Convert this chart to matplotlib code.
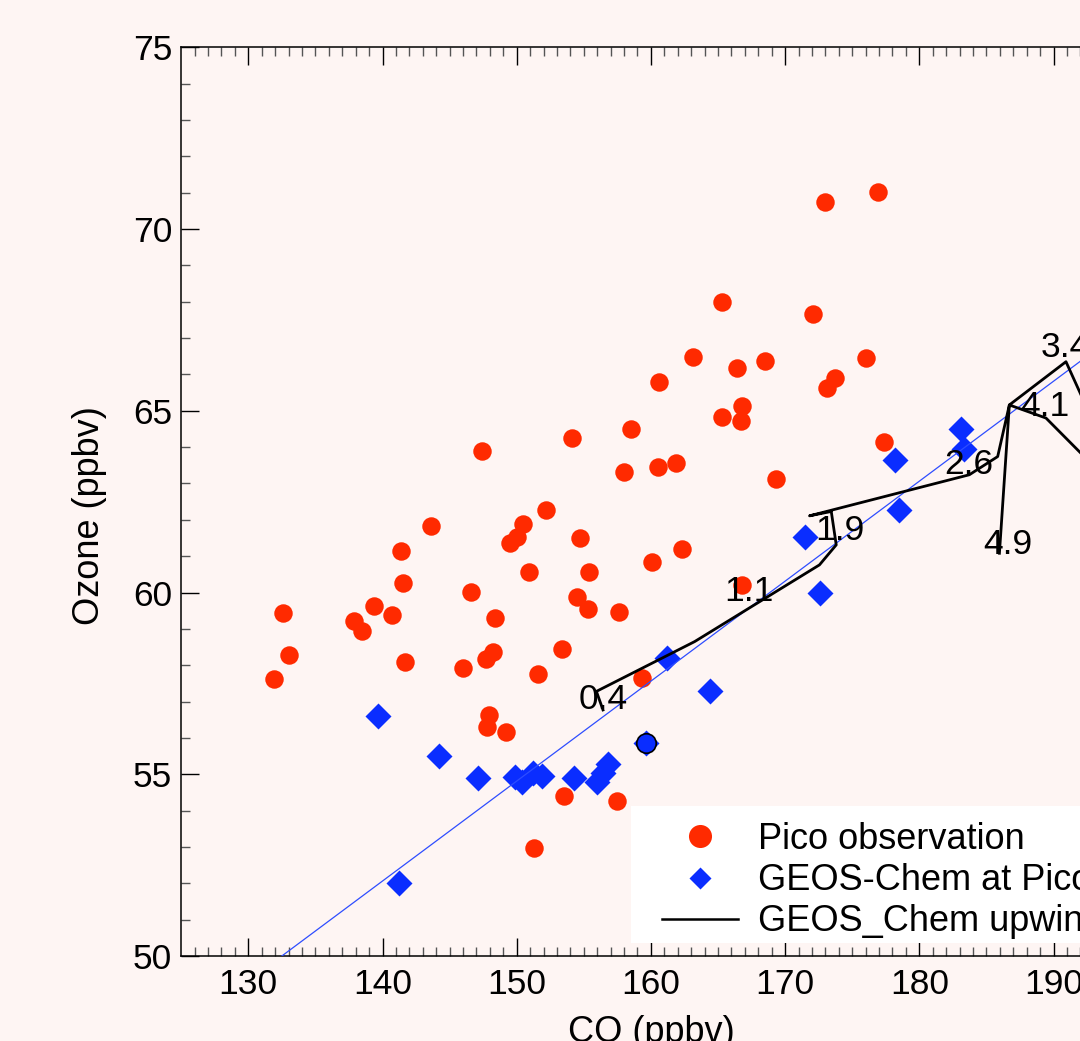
import matplotlib
matplotlib.use("Agg")
import matplotlib.pyplot as plt
from matplotlib.lines import Line2D
from matplotlib.patches import Rectangle
import numpy as np

plt.rcParams['font.family'] = ['Liberation Sans', 'DejaVu Sans']

# Pico observations (CO, O3)
pico_co = [147.4, 150.5, 150.0, 149.5, 143.6, 141.4, 141.5, 150.9, 146.6, 132.6,
           139.4, 137.9, 138.5, 140.7, 148.4, 133.0, 131.9, 141.7, 146.0, 148.2,
           147.7, 151.6, 153.4, 147.9, 147.8, 149.2, 153.5, 151.3, 173.0, 176.9,
           165.3, 172.1, 163.1, 166.4, 168.5, 176.0, 160.6, 173.7, 173.1, 166.8,
           165.3, 166.7, 158.5, 154.1, 158.0, 160.5, 161.9, 169.3, 177.4, 152.2,
           154.7, 162.3, 160.1, 155.4, 154.5, 155.3, 157.6, 166.8, 159.3, 157.5]
pico_o3 = [63.88, 61.88, 61.52, 61.36, 61.84, 61.13, 60.25, 60.57, 60.01, 59.43,
           59.62, 59.23, 58.93, 59.39, 59.31, 58.29, 57.61, 58.10, 57.92, 58.35,
           58.18, 57.76, 58.44, 56.62, 56.31, 56.16, 54.41, 52.97, 70.74, 71.03,
           68.00, 67.67, 66.47, 66.18, 66.38, 66.44, 65.78, 65.90, 65.63, 65.13,
           64.84, 64.73, 64.50, 64.24, 63.32, 63.46, 63.55, 63.13, 64.13, 62.27,
           61.49, 61.21, 60.85, 60.56, 59.89, 59.56, 59.46, 60.21, 57.65, 54.27]

# GEOS-Chem sampled at Pico
gc_co = [139.7, 144.2, 147.1, 149.9, 150.4, 151.2, 151.9, 154.3, 156.0, 156.4,
         156.8, 159.6, 141.2, 161.2, 164.4, 171.5, 172.6, 178.2, 178.5, 183.1, 183.3]
gc_o3 = [56.59, 55.49, 54.91, 54.92, 54.80, 55.03, 54.96, 54.91, 54.79, 55.04,
         55.29, 55.87, 52.01, 58.21, 57.28, 61.54, 59.98, 63.65, 62.27, 64.51, 63.94]

# highlighted point
mean_co = [159.6]
mean_o3 = [55.87]

# GEOS-Chem along the upwind trajectory
traj_co = [156.43, 155.94, 163.26, 172.56, 173.81, 173.44, 171.82, 183.73, 185.84,
           186.71, 190.93, 194.75, 194.9, 189.44, 186.71, 185.97]
traj_o3 = [56.77, 57.28, 58.65, 60.76, 61.31, 62.23, 62.11, 63.24, 63.74,
           65.16, 66.35, 63.24, 62.77, 64.80, 65.16, 61.08]

# trajectory day labels
day_labels = ['0.4', '1.1', '1.9', '2.6', '3.4', '4.1', '4.9']
day_co = [156.43, 167.29, 174.06, 183.66, 190.89, 189.33, 186.57]
day_o3 = [57.05, 60.02, 61.72, 63.51, 66.73, 65.11, 61.31]

# fitted line
fit_slope = 0.275
fit_x0 = 132.5
fit_y0 = 50.0

bg = '#fef5f3'
red = '#ff2a00'
blue = '#0a2dff'
fs = 25.5
fs_big = 26

fig = plt.figure(figsize=(10.8, 10.41), dpi=100, facecolor=bg)
ax = fig.add_axes([181.2 / 1080, 85 / 1041, 939.4 / 1080, 908.7 / 1041])
ax.set_facecolor(bg)

xlim = (125, 195)
ax.set_xlim(*xlim)
ax.set_ylim(50, 75)

ax.plot(gc_co, gc_o3, 'D', ms=13.7, color=blue, mec='none', zorder=3)
ax.plot(pico_co, pico_o3, 'o', ms=13.3, color=red, mec='none', zorder=3)

fx = np.array(xlim)
ax.plot(fx, fit_y0 + fit_slope * (fx - fit_x0), color='#2e4dff', lw=0.9, zorder=4)

ax.plot(traj_co, traj_o3, color='black', lw=2, zorder=5)
ax.plot(mean_co, mean_o3, 'o', ms=14, color=blue, mec='black', mew=1.2, zorder=6)

for lab, cx, cy in zip(day_labels, day_co, day_o3):
    ax.text(cx, cy, lab, fontsize=fs, ha='center', va='center', zorder=7)

# ticks
ax.set_xticks(np.arange(130, 200, 10))
ax.set_yticks(np.arange(50, 80, 5))
ax.set_xticks(np.arange(126, 195, 1), minor=True)
ax.set_yticks(np.arange(51, 75, 1), minor=True)
ax.tick_params(which='both', direction='in', top=True, right=True, labelsize=fs, color='black')
ax.tick_params(which='major', length=13, width=1)
ax.tick_params(which='minor', length=6.5, width=1, color='#555555')
ax.tick_params(axis='x', which='major', pad=8.5)
ax.tick_params(axis='y', which='major', pad=6.5)
for s in ax.spines.values():
    s.set_linewidth(1.1)

ax.set_xlabel('CO (ppbv)', fontsize=fs_big, labelpad=10)
ax.set_ylabel('Ozone (ppbv)', fontsize=fs_big)
ax.yaxis.set_label_coords((107 - 181.2) / 939.4, (956 - 516) / 908.7)

# legend box
ax.add_patch(Rectangle(((631 - 181.2) / 939.4, (956 - 943) / 908.7), 0.6, (943 - 806) / 908.7,
                       transform=ax.transAxes, facecolor='white', edgecolor='none', zorder=8))
handles = [
    Line2D([], [], marker='o', ls='none', ms=16.6, color=red, mec='none'),
    Line2D([], [], marker='D', ls='none', ms=11.7, color=blue, mec='none'),
    Line2D([], [], color='black', lw=1.8),
]
names = ['Pico observation', 'GEOS-Chem at Pico', 'GEOS_Chem upwind']
leg = ax.legend(handles, names, loc='upper left', bbox_to_anchor=(662 / 1080, (1041 - 822) / 1041),
                bbox_transform=fig.transFigure, frameon=False, fontsize=fs_big, borderpad=0,
                borderaxespad=0, labelspacing=0.17, handlelength=2.1, handletextpad=0.55)
leg.set_zorder(9)

fig.savefig('out.png', dpi=100, facecolor=bg)
